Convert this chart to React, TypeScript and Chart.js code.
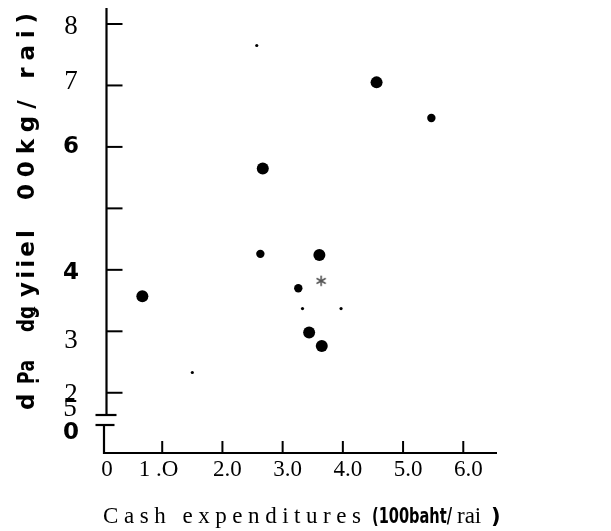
import React, { useEffect, useRef } from "react";
import { Chart, registerables } from "chart.js";

Chart.register(...registerables);

// ---- data ----
const largeDotsX = [4.56, 2.67, 3.61, 0.67, 3.44, 3.65];
const largeDotsY = [7.05, 5.65, 4.24, 3.57, 2.98, 2.76];
const mediumDotsX = [5.47, 2.63, 3.26];
const mediumDotsY = [6.47, 4.26, 3.7];
const smallDotsX = [2.57, 3.33, 3.97, 1.5];
const smallDotsY = [7.65, 3.37, 3.37, 2.33];
const asteriskX = [3.64];
const asteriskY = [3.82];

const xTickValues = [0, 1, 2, 3, 4, 5, 6];
const xTickLabels = ["0", "1 .O   ", "2.0", "3.0", "4.0", "5.0", "6.0"];
const yTickValues = [8, 7, 6, 5, 4, 3, 2];
const yTickLabels = ["8", "7", "6", "", "4", "3", "2"];
const breakLabels = ["5", "0"];

const xTitleParts = ["Cash expenditures", "(100baht/", "rai", ")"];
const yTitleParts = ["d", "P\u0323a", "d\u01e5", "yiiel", "00kg/ rai)"];

const SERIF = '"Liberation Serif", "Times New Roman", serif';
const SANS = '"DejaVu Sans", "Liberation Sans", sans-serif';

// per-label look (bold sans vs serif, small vertical nudge as in the scan)
const yLabelLook = [
  { bold: false, dy: 3 },
  { bold: false, dy: -4 },
  { bold: true, dy: 0 },
  { bold: false, dy: 0 },
  { bold: true, dy: 3 },
  { bold: false, dy: 10 },
  { bold: false, dy: 2 },
];
// vertical spans (bottom, top) of the rotated y-title pieces
const yTitleSpans = [
  [410, 393],
  [384, 360],
  [332, 306],
  [297, 230],
  [200, 13],
];

function makeAsterisk(): HTMLCanvasElement {
  const c = document.createElement("canvas");
  c.width = 12;
  c.height = 12;
  const g = c.getContext("2d")!;
  g.strokeStyle = "#555";
  g.lineWidth = 1.6;
  g.lineCap = "round";
  const cx = 6, cy = 6, r = 4.6;
  for (let k = 0; k < 3; k++) {
    const a = Math.PI / 2 + (k * Math.PI) / 3;
    g.beginPath();
    g.moveTo(cx - r * Math.cos(a), cy - r * Math.sin(a));
    g.lineTo(cx + r * Math.cos(a), cy + r * Math.sin(a));
    g.stroke();
  }
  return c;
}

function fitText(ctx: any, t: string, x: number, y: number, span: number) {
  ctx.letterSpacing = "0px";
  const w0 = ctx.measureText(t).width;
  const n = Array.from(t.normalize("NFC")).length;
  if (w0 < span && n > 1) {
    ctx.letterSpacing = `${(span - w0) / (n - 1)}px`;
    ctx.fillText(t, x, y);
    ctx.letterSpacing = "0px";
  } else {
    ctx.fillText(t, x, y, span);
  }
}

const axisPlugin = {
  id: "brokenAxes",
  afterDraw(chart: any) {
    const { ctx, chartArea: ca, scales } = chart;
    const xs = scales.x;
    const ys = scales.y;
    const line = (x1: number, y1: number, x2: number, y2: number) => {
      ctx.beginPath();
      ctx.moveTo(x1, y1);
      ctx.lineTo(x2, y2);
      ctx.stroke();
    };
    ctx.save();
    ctx.strokeStyle = "#000";
    ctx.lineWidth = 2.2;
    const ax = ca.left + 4.5;
    const yb1 = ca.bottom - 38;
    const yb2 = ca.bottom - 28;
    // upper vertical axis
    line(ax, ca.top, ax, yb1);
    // break caps
    line(ax - 11, yb1, ax + 10, yb1);
    line(ax - 11, yb2, ax + 8, yb2);
    // lower stub
    line(ax - 2.5, yb2, ax - 2.5, ca.bottom + 1);
    // x axis
    line(ax - 3.5, ca.bottom, ca.right, ca.bottom);
    // y ticks
    ctx.lineWidth = 2;
    yTickValues.forEach((v) => {
      const py = ys.getPixelForValue(v);
      line(ax, py, ax + 16, py);
    });
    // x ticks
    xTickValues.forEach((v) => {
      if (v === 0) return;
      const px = xs.getPixelForValue(v);
      line(px, ca.bottom, px, ca.bottom - 12);
    });

    // y tick labels
    ctx.fillStyle = "#000";
    ctx.textAlign = "center";
    ctx.textBaseline = "middle";
    yTickValues.forEach((v, i) => {
      const look = yLabelLook[i];
      ctx.font = look.bold ? `bold 23px ${SANS}` : `27px ${SERIF}`;
      ctx.fillText(yTickLabels[i], 71, ys.getPixelForValue(v) + look.dy);
    });
    // labels in the break zone
    ctx.font = `27px ${SERIF}`;
    ctx.fillText(breakLabels[0], 70, ca.bottom - 44);
    ctx.font = `bold 23px ${SANS}`;
    ctx.fillText(breakLabels[1], 71, ca.bottom - 20);

    // x title
    ctx.textAlign = "left";
    ctx.textBaseline = "alphabetic";
    const by = 523;
    ctx.font = `23px ${SERIF}`;
    fitText(ctx, xTitleParts[0], 103, by, 258);
    ctx.font = `bold 21px ${SANS}`;
    fitText(ctx, xTitleParts[1], 372, by, 80);
    ctx.font = `23px ${SERIF}`;
    ctx.fillText(xTitleParts[2], 457, by);
    ctx.font = `bold 21px ${SANS}`;
    ctx.fillText(xTitleParts[3], 491, by);

    // y title (rotated, read bottom to top)
    ctx.font = `bold 23px ${SANS}`;
    yTitleParts.forEach((t, i) => {
      const [b, tp] = yTitleSpans[i];
      ctx.save();
      ctx.translate(34, b);
      ctx.rotate(-Math.PI / 2);
      fitText(ctx, t, 0, 0, b - tp);
      ctx.restore();
    });
    ctx.restore();
  },
};

export default function App() {
  const ref = useRef<HTMLCanvasElement | null>(null);
  useEffect(() => {
    if (!ref.current) return;
    const toPts = (xs: number[], ys: number[]) => xs.map((x, i) => ({ x, y: ys[i] }));
    const chart = new Chart(ref.current, {
      type: "scatter",
      data: {
        datasets: [
          {
            label: "large",
            data: toPts(largeDotsX, largeDotsY),
            backgroundColor: "#000",
            borderColor: "#000",
            pointRadius: 6,
            borderWidth: 0,
          },
          {
            label: "medium",
            data: toPts(mediumDotsX, mediumDotsY),
            backgroundColor: "#000",
            borderColor: "#000",
            pointRadius: 4.2,
            borderWidth: 0,
          },
          {
            label: "small",
            data: toPts(smallDotsX, smallDotsY),
            backgroundColor: "#000",
            borderColor: "#000",
            pointRadius: 1.6,
            borderWidth: 0,
          },
          {
            label: "asterisk",
            data: toPts(asteriskX, asteriskY),
            pointStyle: makeAsterisk() as any,
            pointRadius: 6,
          },
        ],
      },
      options: {
        responsive: false,
        animation: false,
        devicePixelRatio: 1,
        layout: { padding: { top: 8, right: 114, left: 0, bottom: 0 } },
        plugins: {
          legend: { display: false },
          tooltip: { enabled: false },
          title: { display: false },
        },
        scales: {
          x: {
            type: "linear",
            min: 0,
            max: 6.56,
            grid: { display: false, drawTicks: false },
            border: { display: false },
            afterBuildTicks: (s: any) => {
              s.ticks = xTickValues.map((v) => ({ value: v }));
            },
            afterFit: (s: any) => {
              s.height = 78;
            },
            ticks: {
              autoSkip: false,
              maxRotation: 0,
              padding: 3,
              labelOffset: 5,
              color: "#000",
              font: { family: SERIF, size: 23 },
              callback: (_v: any, i: number) => xTickLabels[i],
            },
          },
          y: {
            type: "linear",
            min: 1.02,
            max: 8.26,
            grid: { display: false, drawTicks: false },
            border: { display: false },
            afterFit: (s: any) => {
              s.width = 102;
            },
            ticks: { display: false },
          },
        },
      },
      plugins: [axisPlugin],
    });
    return () => chart.destroy();
  }, []);
  return (
    <div style={{ position: "fixed", left: 0, top: 0, width: 611, height: 531, background: "#fff" }}>
      <canvas ref={ref} width={611} height={531} />
    </div>
  );
}
